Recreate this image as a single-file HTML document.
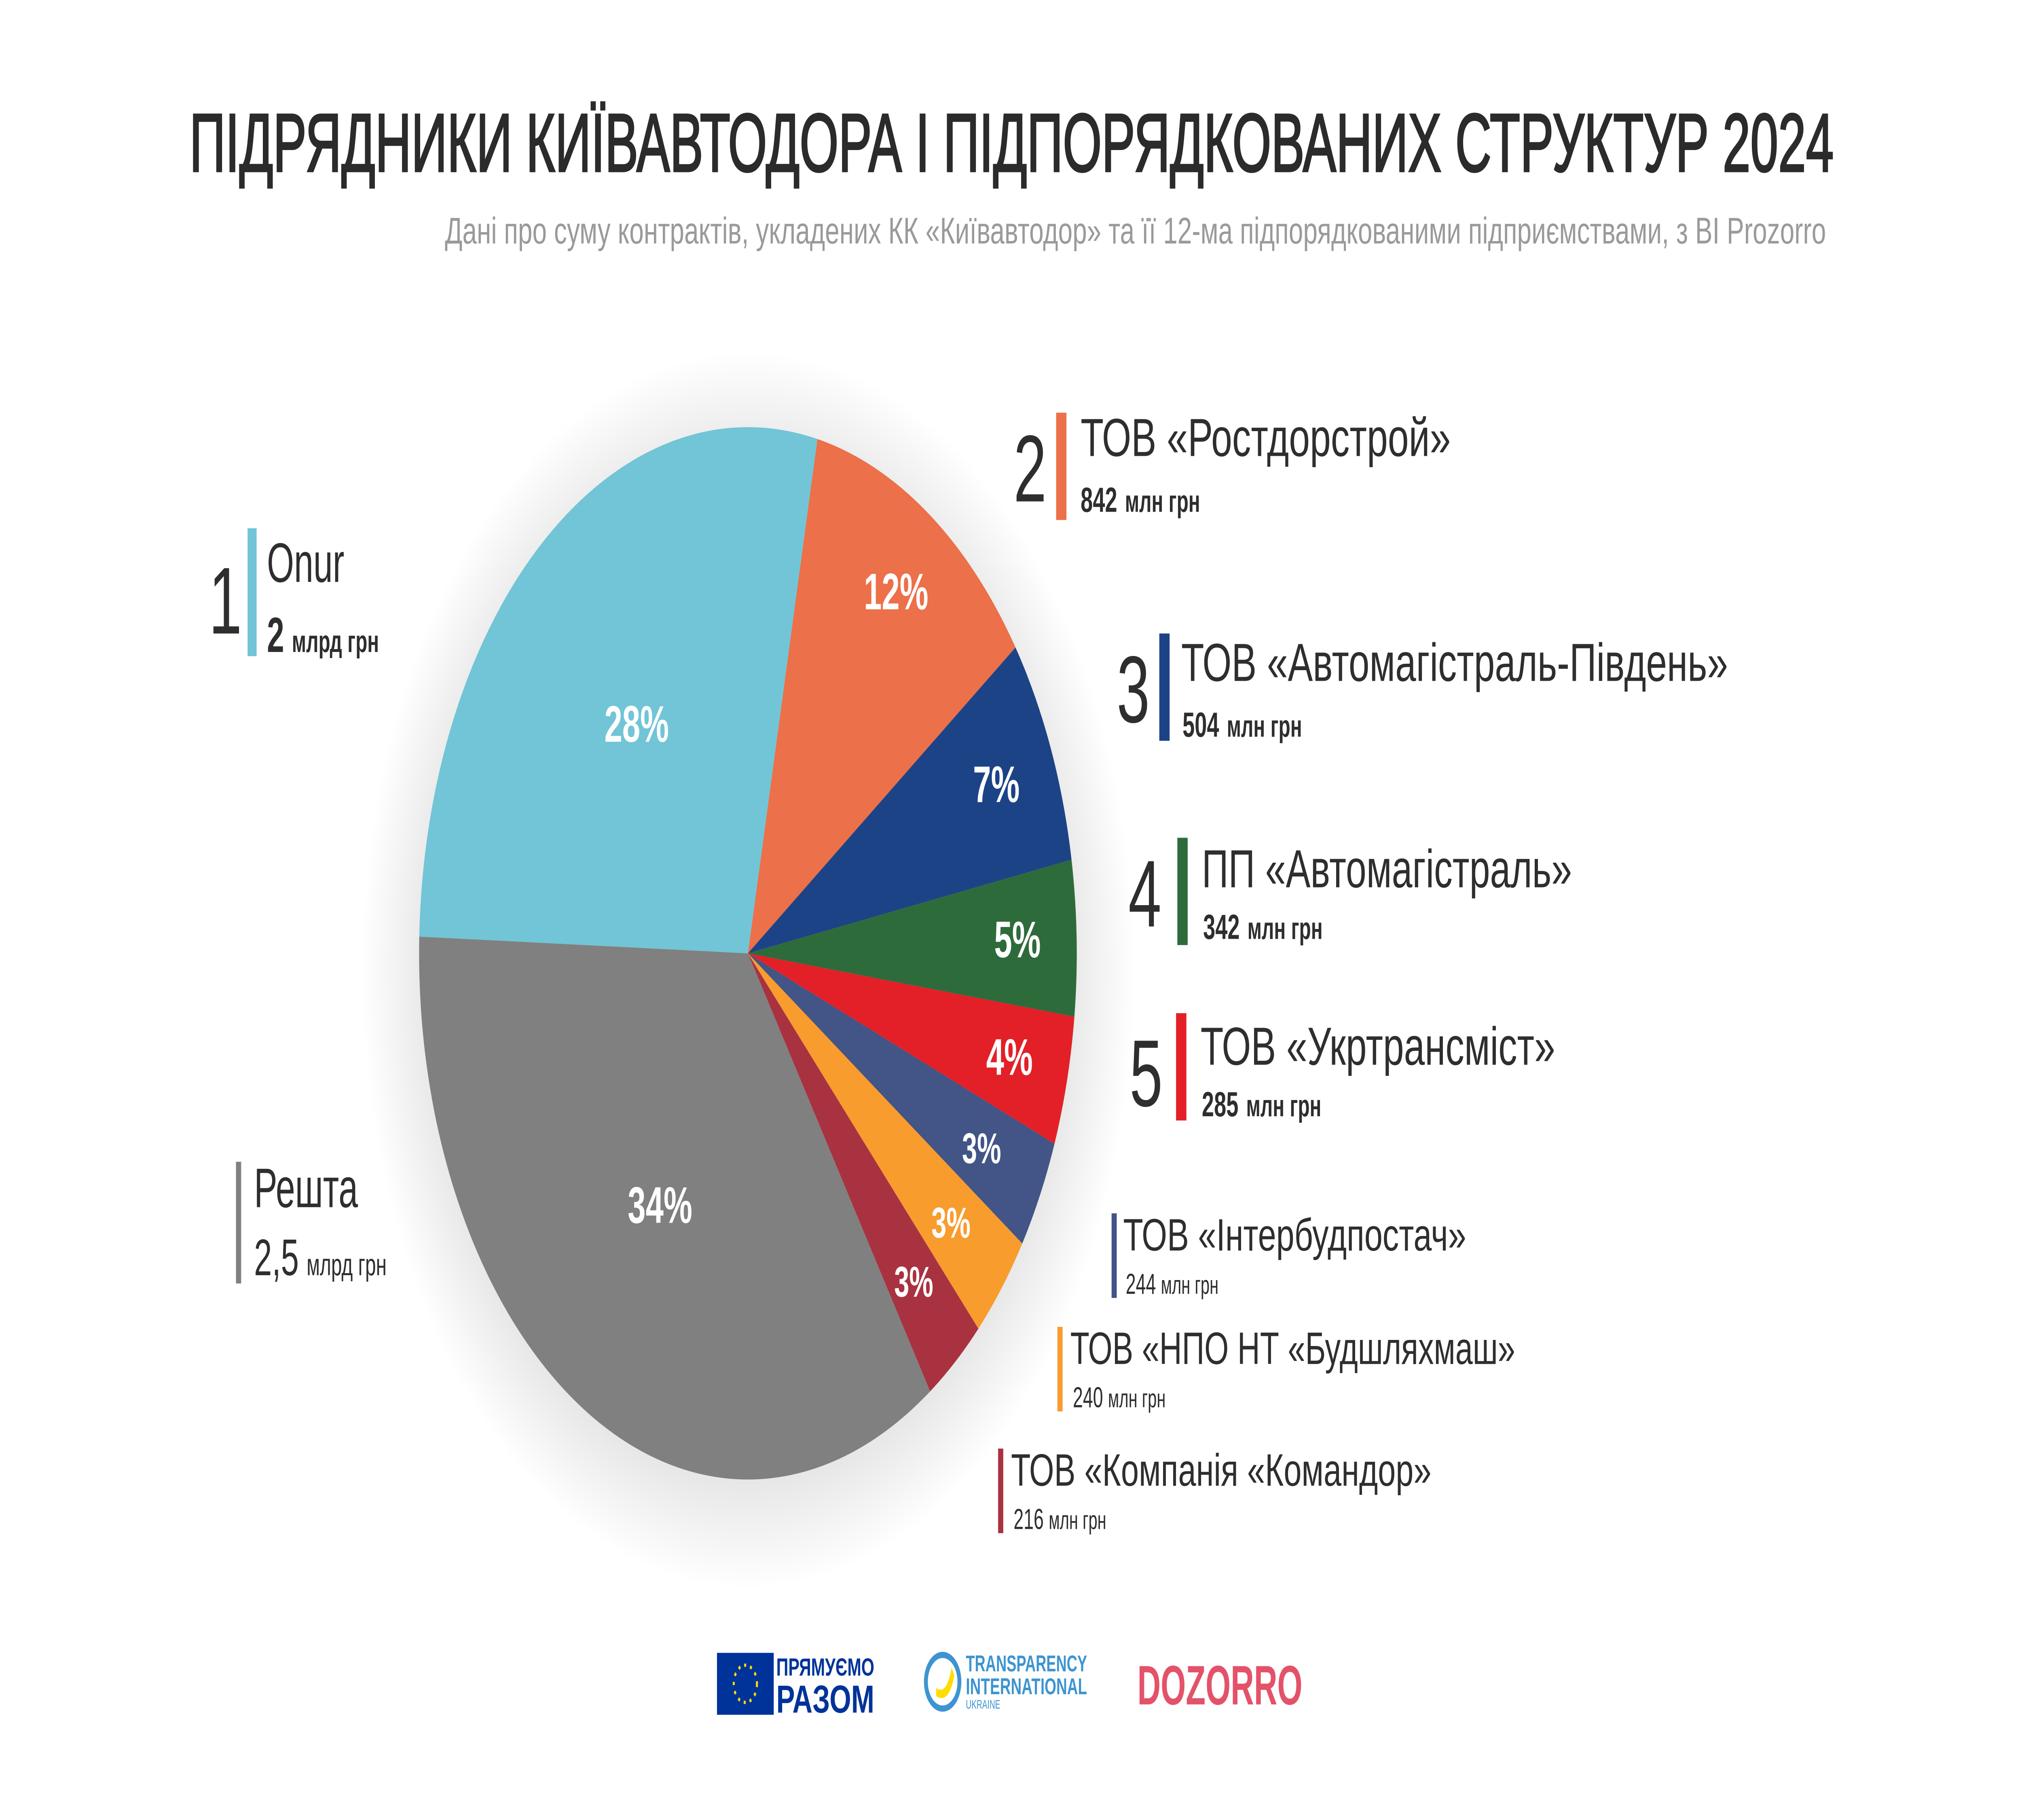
<!DOCTYPE html>
<html><head><meta charset="utf-8">
<style>
html,body{margin:0;padding:0;background:#fff;overflow:hidden;width:100%;height:100%;}
svg{display:block;width:100vw;height:100vh;}
text{font-family:"Liberation Sans",sans-serif;fill:#2e2e2e;}
.pct{fill:#fff;font-weight:bold;text-anchor:middle;}
</style></head>
<body>
<svg id="chart" viewBox="0 0 1568 882" preserveAspectRatio="none" xmlns="http://www.w3.org/2000/svg">
<defs>
<radialGradient id="sh" cx="50%" cy="50%" r="50%">
<stop offset="0.78" stop-color="#000" stop-opacity="0.12"/>
<stop offset="1" stop-color="#000" stop-opacity="0"/>
</radialGradient>
</defs>
<rect width="1568" height="882" fill="#fff"/>
<text x="147" y="83" font-size="40" textLength="1275" lengthAdjust="spacingAndGlyphs" style="fill:#2b2b2b;stroke:#2b2b2b;stroke-width:0.9">ПІДРЯДНИКИ КИЇВАВТОДОРА І ПІДПОРЯДКОВАНИХ СТРУКТУР 2024</text>
<text x="345" y="118" font-size="18" textLength="1071" lengthAdjust="spacingAndGlyphs" style="fill:#9a9a9a">Дані про суму контрактів, укладених КК «Київавтодор» та її 12-ма підпорядкованими підприємствами, з BI Prozorro</text>
<circle cx="580" cy="470" r="300" fill="url(#sh)"/>
<g id="slices"></g>
<g id="pcts"></g>

<g>
<text x="162" y="307" font-size="46">1</text>
<rect x="192" y="256" width="7" height="62" fill="#71c5d6"/>
<text x="207" y="282" font-size="27">Onur</text>
<text x="207" y="316"><tspan font-size="24" font-weight="bold">2</tspan><tspan font-size="15" font-weight="bold" dx="6">млрд грн</tspan></text>
</g>
<g>
<text x="786" y="243" font-size="46">2</text>
<rect x="819" y="200" width="8" height="52" fill="#ec7049"/>
<text x="838" y="221" font-size="26" textLength="287" lengthAdjust="spacingAndGlyphs">ТОВ «Ростдорстрой»</text>
<text x="838" y="248"><tspan font-size="17" font-weight="bold">842</tspan><tspan font-size="15" font-weight="bold" dx="6">млн грн</tspan></text>
</g>
<g>
<text x="866" y="350" font-size="46">3</text>
<rect x="899" y="307" width="8" height="52" fill="#1d4387"/>
<text x="916" y="330" font-size="26" textLength="424" lengthAdjust="spacingAndGlyphs">ТОВ «Автомагістраль-Південь»</text>
<text x="917" y="357"><tspan font-size="17" font-weight="bold">504</tspan><tspan font-size="15" font-weight="bold" dx="6">млн грн</tspan></text>
</g>
<g>
<text x="875" y="449" font-size="46">4</text>
<rect x="913" y="406" width="8" height="52" fill="#2e6b3b"/>
<text x="932" y="430" font-size="26" textLength="287" lengthAdjust="spacingAndGlyphs">ПП «Автомагістраль»</text>
<text x="933" y="455"><tspan font-size="17" font-weight="bold">342</tspan><tspan font-size="15" font-weight="bold" dx="6">млн грн</tspan></text>
</g>
<g>
<text x="876" y="536" font-size="46">5</text>
<rect x="912" y="491" width="8" height="52" fill="#e32027"/>
<text x="931" y="516" font-size="26" textLength="275" lengthAdjust="spacingAndGlyphs">ТОВ «Укртрансміст»</text>
<text x="932" y="541"><tspan font-size="17" font-weight="bold">285</tspan><tspan font-size="15" font-weight="bold" dx="6">млн грн</tspan></text>
</g>
<g>
<rect x="862" y="588" width="4" height="41" fill="#435486"/>
<text x="871" y="606" font-size="22" textLength="266" lengthAdjust="spacingAndGlyphs">ТОВ «Інтербудпостач»</text>
<text x="873" y="627" font-size="14">244 <tspan font-size="12.5">млн грн</tspan></text>
</g>
<g>
<rect x="820" y="643" width="4" height="41" fill="#f89c2e"/>
<text x="830" y="661" font-size="22" textLength="345" lengthAdjust="spacingAndGlyphs">ТОВ «НПО НТ «Будшляхмаш»</text>
<text x="832" y="682" font-size="14">240 <tspan font-size="12.5">млн грн</tspan></text>
</g>
<g>
<rect x="774" y="702" width="4" height="41" fill="#a93240"/>
<text x="784" y="720" font-size="22" textLength="326" lengthAdjust="spacingAndGlyphs">ТОВ «Компанія «Командор»</text>
<text x="786" y="741" font-size="14">216 <tspan font-size="12.5">млн грн</tspan></text>
</g>
<g>
<rect x="183" y="563" width="4" height="59" fill="#808080"/>
<text x="197" y="585" font-size="27">Решта</text>
<text x="197" y="618"><tspan font-size="25">2,5</tspan><tspan font-size="15" dx="6">млрд грн</tspan></text>
</g>

<g>
<rect x="556" y="801" width="44" height="30" fill="#003399"/>
<circle cx="578" cy="816" r="9" fill="none" stroke="#ffdd00" stroke-width="1.6" stroke-dasharray="1.6 3"/>
<text x="602" y="812" font-size="12" font-weight="bold" textLength="76" lengthAdjust="spacingAndGlyphs" style="fill:#003399">ПРЯМУЄМО</text>
<text x="602" y="830" font-size="19" font-weight="bold" textLength="76" lengthAdjust="spacingAndGlyphs" style="fill:#003399">РАЗОМ</text>
</g>
<g>
<circle cx="731" cy="815" r="13" fill="none" stroke="#3d94d1" stroke-width="3"/>
<path d="M726 818 Q734 822 738 808 L740 812 Q736 826 726 822Z" fill="#ffdd00"/>
<text x="749" y="810" font-size="11" font-weight="bold" textLength="94" lengthAdjust="spacingAndGlyphs" style="fill:#3d94d1">TRANSPARENCY</text>
<text x="749" y="821" font-size="11" font-weight="bold" textLength="94" lengthAdjust="spacingAndGlyphs" style="fill:#3d94d1">INTERNATIONAL</text>
<text x="749" y="828" font-size="6" style="fill:#3d94d1">UKRAINE</text>
</g>
<g>
<text x="882" y="826" font-size="27" font-weight="bold" textLength="128" lengthAdjust="spacingAndGlyphs" style="fill:#e4526a">DOZORRO</text>
</g>
</svg>
<script>
const categories = ["ТОВ «Ростдорстрой»","ТОВ «Автомагістраль-Південь»","ПП «Автомагістраль»","ТОВ «Укртрансміст»","ТОВ «Інтербудпостач»","ТОВ «НПО НТ «Будшляхмаш»","ТОВ «Компанія «Командор»","Решта","Onur"];
const values = [842,504,342,285,244,240,216,2500,2000];
const pctLabels = ["12%","7%","5%","4%","3%","3%","3%","34%","28%"];
const colors = ["#ec7049","#1d4387","#2e6b3b","#e32027","#435486","#f89c2e","#a93240","#808080","#71c5d6"];
const startDeg = 12.2;
const cx = 580, cy = 462, R = 255;
const NS = "http://www.w3.org/2000/svg";
const total = values.reduce((a,b)=>a+b,0);
function pt(deg, r){ const a = deg*Math.PI/180; return [cx + r*Math.sin(a), cy - r*Math.cos(a)]; }
let acc = startDeg;
const gS = document.getElementById('slices'), gP = document.getElementById('pcts');
values.forEach((v,i)=>{
  const sweep = v/total*360;
  const a0 = acc, a1 = acc+sweep;
  const p0 = pt(a0,R), p1 = pt(a1,R);
  const path = document.createElementNS(NS,'path');
  path.setAttribute('d',`M${cx},${cy} L${p0[0]},${p0[1]} A${R},${R} 0 ${sweep>180?1:0} 1 ${p1[0]},${p1[1]} Z`);
  path.setAttribute('fill',colors[i]);
  
  
  gS.appendChild(path);
  const small = v/total < 0.035;
  const big = v/total > 0.2;
  const lr = big ? R*0.55 : (small ? R*0.8 : R*0.82);
  const lp = pt((a0+a1)/2, lr);
  const t = document.createElementNS(NS,'text');
  t.setAttribute('x', lp[0]); t.setAttribute('y', lp[1]+8);
  t.setAttribute('class','pct');
  t.setAttribute('font-size', small ? 21 : 25);
  t.textContent = pctLabels[i];
  
  
  gP.appendChild(t);
  acc = a1;
});
</script>
</body></html>
